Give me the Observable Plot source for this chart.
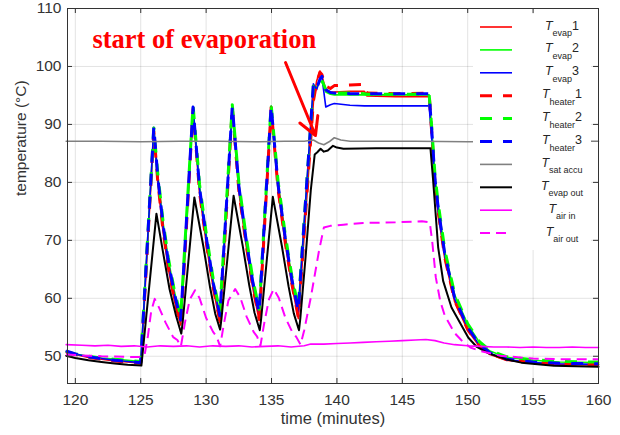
<!DOCTYPE html>
<html><head><meta charset="utf-8">
<script src="https://cdn.jsdelivr.net/npm/d3@7"></script>
<script src="https://cdn.jsdelivr.net/npm/@observablehq/plot@0.6"></script>
<style>
body{margin:0;background:#fff;}
#wrap{position:relative;width:620px;height:435px;}
</style></head><body><div id="wrap"></div>
<script>
// ---------- data ----------
const xTicks = [120,125,130,135,140,145,150,155,160];
const yTicks = [50,60,70,80,90,100,110];

// shared time grid for evaporator / heater temperatures (minutes)
const tE = [119.3,120,121,122,123,124,125.0,125.1,126.0,126.3,126.7,127.1,127.55,128.05,128.15,129.0,129.5,130.05,130.55,131.05,131.15,132.0,132.5,133.05,133.55,134.05,134.15,134.97,135.5,136.05,136.55,137.05,137.15,138.2,138.45,138.7,138.85,139.15,139.5,139.8,141.0,142.1,142.3,144.5,147.05,147.25,147.5,147.75,148.25,149.0,150.0,150.9,151.7,153.0,155.0,157.0,160.0];

const evap1 = [50.7,50.3,49.8,49.5,49.2,49.0,48.8,52.0,
  88.6,80.0,71.6,65.2,59.8,55.4,58.3,
  92.4,78.0,68.8,61.6,55.8,58.8,
  92.7,78.4,69.2,62.0,56.2,59.3,
  92.7,78.6,69.4,62.3,56.5,59.6,
  93.8,97.5,99.2,98.4,96.0,95.6,95.6,95.7,95.7,94.9,94.8,94.8,
  88.0,79.5,74.5,66.8,59.4,54.5,51.7,50.3,49.3,48.8,48.6,48.5];
const evap2 = [50.8,50.4,50.0,49.7,49.5,49.3,49.1,53.2,
  89.2,81.4,73.2,66.9,61.4,56.7,60.4,
  93.1,79.4,70.3,63.0,57.4,61.2,
  93.2,79.8,70.6,63.4,57.9,61.6,
  93.2,80.0,70.8,63.7,58.2,61.8,
  96.4,96.4,97.4,97.4,95.6,95.2,95.1,95.1,95.1,95.1,95.1,95.1,
  89.3,81.0,76.1,68.1,60.6,55.5,52.4,50.9,49.8,49.3,49.0,48.9];
const evap3 = [50.9,50.4,49.9,49.6,49.3,49.1,48.9,52.8,
  89.5,80.8,72.6,66.3,60.8,56.1,59.8,
  92.9,78.8,69.7,62.4,56.8,60.6,
  93.1,79.2,70.0,62.8,57.3,61.0,
  93.1,79.4,70.2,63.1,57.6,61.3,
  97.0,96.0,97.8,98.2,93.0,93.4,93.6,93.3,93.2,93.2,93.2,93.2,
  87.5,79.8,75.0,67.3,59.9,54.9,51.9,50.5,49.4,48.9,48.7,48.6];
const heater1 = [50.7,50.3,49.8,49.5,49.2,49.0,48.8,52.0,
  88.8,80.2,71.8,65.4,60.0,55.5,58.5,
  92.6,78.2,69.0,61.8,56.0,59.0,
  92.9,78.6,69.4,62.2,56.4,59.5,
  92.9,78.8,69.6,62.5,56.7,59.8,
  94.0,97.2,99.0,98.6,96.6,96.2,96.7,96.8,96.9,95.4,95.3,95.4,
  88.5,80.0,74.8,67.0,59.6,54.6,51.8,50.4,49.4,48.9,48.7,48.6];
const heater2 = [50.8,50.4,50.0,49.7,49.5,49.3,49.1,53.3,
  89.4,81.6,73.4,67.1,61.6,56.9,60.6,
  93.3,79.6,70.5,63.2,57.6,61.4,
  93.4,80.0,70.8,63.6,58.1,61.8,
  93.4,80.2,71.0,63.9,58.4,62.0,
  96.6,96.6,97.6,97.6,96.0,95.5,95.4,95.4,95.3,95.2,95.2,95.2,
  89.5,81.2,76.3,68.3,60.8,55.6,52.5,51.0,49.9,49.4,49.1,49.0];
const heater3 = [50.9,50.4,49.9,49.6,49.3,49.1,48.9,52.9,
  89.6,81.0,72.8,66.5,61.0,56.3,60.0,
  93.0,79.0,69.9,62.6,57.0,60.8,
  93.2,79.4,70.2,63.0,57.5,61.2,
  93.2,79.6,70.4,63.3,57.8,61.5,
  97.0,96.2,97.8,98.3,96.0,95.5,95.4,95.3,95.3,95.3,95.3,95.3,
  89.0,80.5,75.5,67.6,60.1,55.0,52.0,50.6,49.5,49.0,48.8,48.7];

// saturation temperature of accumulator
const tSat = [119.3,122,125,128,131,134,136,137.5,138.2,138.6,139.0,139.4,139.8,140.3,141.0,143,146,150,155,160];
const satAccu = [87.1,87.1,87.0,87.1,87.1,87.0,87.1,87.1,87.3,86.8,86.5,87.0,87.7,87.3,87.1,87.1,87.1,87.0,87.1,87.1];

// evaporator outlet
const tOut = [119.3,120,121,122,123,124,125.05,125.2,126.2,126.7,127.2,127.7,128.1,128.2,129.1,129.8,130.3,130.7,131.07,131.17,132.1,132.8,133.3,133.7,134.1,134.2,135.1,135.8,136.3,136.7,137.1,137.2,137.6,138.0,138.3,138.5,138.75,139.0,139.3,139.7,140.0,140.5,143.0,145.0,147.15,147.35,147.74,148.12,148.76,150.05,150.7,151.6,152.9,154.1,156.6,160.0];
const evapOut = [50.1,49.7,49.3,49.0,48.75,48.55,48.4,51.8,74.6,68.0,61.6,57.0,53.9,55.7,77.4,68.8,61.9,57.3,54.6,56.4,77.7,69.0,62.2,57.5,54.5,56.3,77.5,68.9,62.1,57.4,54.5,56.5,67.0,78.6,84.8,85.2,85.8,85.3,85.5,86.3,86.0,85.8,85.9,85.9,85.9,80.5,68.8,63.0,58.4,53.2,51.6,50.5,49.5,48.9,48.35,48.2];

// air inlet
const tAirIn = [119.3,120.5,121.5,122.5,123.5,124.5,125.5,126.5,127.5,128.5,129.5,130.5,131.5,132.5,133.5,134.5,135.5,136.5,137.5,138.0,139.0,140.0,141.0,142.0,143.0,144.0,145.0,146.0,146.8,147.5,148.2,149.0,150.0,151.0,152.0,153.0,154.0,155.0,156.0,157.0,158.0,159.0,160.0];
const airIn = [52.0,51.9,51.8,51.9,51.7,51.8,51.6,51.8,51.7,51.8,51.6,51.8,51.7,51.8,51.6,51.7,51.8,51.6,51.8,52.1,52.1,52.2,52.3,52.4,52.5,52.6,52.7,52.8,52.9,52.7,52.3,52.0,51.8,51.7,51.6,51.6,51.5,51.6,51.5,51.5,51.6,51.5,51.5];

// air outlet
const tAirOut = [119.3,120,121,122,123,124,125.0,125.3,125.55,125.8,126.07,126.4,126.9,127.48,127.8,128.07,128.38,128.75,129.15,129.5,130.0,130.53,130.8,131.07,131.35,131.7,132.22,132.6,133.1,133.63,133.9,134.15,134.45,134.8,135.17,135.55,136.05,136.58,136.9,137.22,137.5,138.0,138.63,139.0,139.5,140.5,142.0,144.5,146.5,147.1,147.3,147.56,147.9,148.25,149.0,149.5,150.2,151.0,152.5,155.0,157.0,160.0];
const airOut = [50.3,50.2,50.1,50.0,49.95,49.9,49.85,50.3,53.5,57.8,59.9,58.4,55.8,53.3,52.8,51.7,55.8,59.8,61.4,60.0,56.6,54.2,53.4,51.7,55.5,59.6,61.6,60.2,56.8,54.2,53.4,51.8,55.8,59.8,61.6,60.1,56.7,54.2,53.3,52.0,54.5,60.1,68.2,72.2,72.5,72.7,73.0,73.1,73.3,73.1,69.5,63.6,59.5,57.0,54.0,52.8,51.5,50.9,50.1,49.6,49.5,49.5];

// legend labels: [main, subscript, suffix]
const legendMain = ["T","T","T","T","T","T","T","T","T","T"];
const legendSub = ["evap","evap","evap","heater","heater","heater","sat accu","evap out","air in","air out"];
const legendSuffix = ["1","2","3","1","2","3","","","",""];

// annotation
const annText = ["start of evaporation"];
const annTextX = [129.86];
const annTextY = [104.69];
const arrowFrom = [[136.07, 100.68]];
const arrowTo = [[138.36, 88.09]];

// ---------- styles ----------
const seriesDefs = [
  {t: tE, v: evap1, color: "#ff0000", width: 1.6, dash: null},
  {t: tE, v: evap2, color: "#00ff00", width: 1.6, dash: null},
  {t: tE, v: evap3, color: "#0000ff", width: 1.6, dash: null},
  {t: tE, v: heater1, color: "#ff0000", width: 3, dash: "12,11"},
  {t: tE, v: heater2, color: "#00ff00", width: 3, dash: "12,11"},
  {t: tE, v: heater3, color: "#0000ff", width: 3, dash: "12,11"},
  {t: tSat, v: satAccu, color: "#808080", width: 1.6, dash: null},
  {t: tOut, v: evapOut, color: "#000000", width: 2, dash: null},
  {t: tAirIn, v: airIn, color: "#ff00ff", width: 1.6, dash: null},
  {t: tAirOut, v: airOut, color: "#ff00ff", width: 2, dash: "10,6"}
];

const lineMarks = seriesDefs.map(s => {
  const rows = s.t.map((t, i) => ({t, v: s.v[i]}));
  return Plot.line(rows, {
    x: "t", y: "v", stroke: s.color, strokeWidth: s.width,
    strokeDasharray: s.dash || undefined,
    strokeLinecap: s.dash ? "butt" : "round", strokeLinejoin: "round"
  });
});

const annRows = annText.map((txt, i) => ({txt, x: annTextX[i], y: annTextY[i]}));
const arrowRows = arrowFrom.map((a, i) => ({x1: a[0], y1: a[1], x2: arrowTo[i][0], y2: arrowTo[i][1]}));

const ink = "#333333";
const gridStroke = {stroke: "#262626", strokeOpacity: 0.13, strokeWidth: 1};
const W = 620, H = 435, mT = 8, mL = 67, mR = 22, mB = 52, tick = 5;
const frameW = W - mL - mR, frameH = H - mT - mB;

const plot = Plot.plot({
  width: W, height: H,
  marginTop: mT, marginLeft: mL, marginRight: mR, marginBottom: mB,
  x: {domain: [119.4, 160]},
  y: {domain: [45.3, 110]},
  style: {fontFamily: "'Liberation Sans', Arial, sans-serif", color: ink, background: "#fff"},
  marks: [
    Plot.gridX(xTicks, gridStroke),
    Plot.gridY(yTicks, gridStroke),
    ...lineMarks,
    Plot.arrow(arrowRows, {x1: "x1", y1: "y1", x2: "x2", y2: "y2", stroke: "#ff0000", strokeWidth: 3, headLength: 10, headAngle: 58}),
    Plot.text(annRows, {x: "x", y: "y", text: "txt", fill: "#ff0000", fontSize: 26.5, fontWeight: "bold", fontFamily: "'Liberation Serif', 'Times New Roman', serif", textAnchor: "middle"}),
    // inward tick marks on all four sides
    Plot.tickX(xTicks, {x: d => d, stroke: ink, insetTop: frameH - tick}),
    Plot.tickX(xTicks, {x: d => d, stroke: ink, insetBottom: frameH - tick}),
    Plot.tickY(yTicks, {y: d => d, stroke: ink, insetRight: frameW - tick}),
    Plot.tickY(yTicks, {y: d => d, stroke: ink, insetLeft: frameW - tick}),
    Plot.frame({stroke: ink, strokeWidth: 1}),
    Plot.axisX(xTicks, {anchor: "bottom", tickSize: 0, tickPadding: 10, fontSize: 15.5, label: null}),
    Plot.axisY(yTicks, {anchor: "left", tickSize: 0, tickPadding: 6, fontSize: 15.5, label: null}),
    Plot.text(["time (minutes)"], {frameAnchor: "bottom", dy: 40, fontSize: 16.5, fill: ink}),
    Plot.text(["temperature (°C)"], {frameAnchor: "left", dx: -46, rotate: -90, fontSize: 15.5, fill: ink})
  ]
});
document.getElementById("wrap").appendChild(plot);

// ---------- legend (inside the axes, top right) ----------
const lg = d3.select("#wrap").append("svg")
  .attr("width", 118).attr("height", 236)
  .style("position", "absolute").style("left", "473px").style("top", "14px")
  .style("background", "#fff");
const rowStep = 22.9;
seriesDefs.forEach((s, i) => {
  const y = 13 + i * rowStep;
  lg.append("line").attr("x1", 7).attr("x2", 39).attr("y1", y).attr("y2", y)
    .attr("stroke", s.color).attr("stroke-width", s.width)
    .attr("stroke-dasharray", s.dash).attr("stroke-linecap", "butt");
  const t = lg.append("text").attr("x", 89).attr("y", y + 2.5)
    .attr("text-anchor", "middle").attr("fill", "#262626")
    .attr("font-family", "'Liberation Sans', Arial, sans-serif");
  t.append("tspan").attr("font-style", "italic").attr("font-size", 12.5).text(legendMain[i]);
  t.append("tspan").attr("font-size", 9).attr("dy", 6.5).text(legendSub[i]);
  if (legendSuffix[i]) t.append("tspan").attr("font-size", 12.5).attr("dy", -6.5).text(legendSuffix[i]);
});
</script></body></html>
